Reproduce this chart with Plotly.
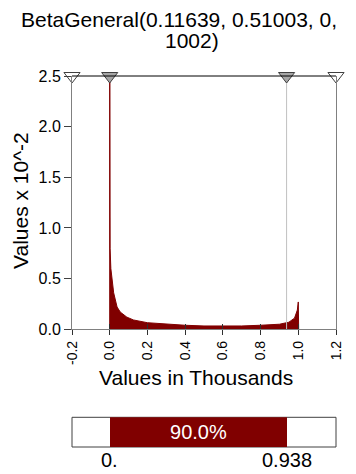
import plotly.graph_objects as go

# ---------------- data ----------------
title_line1 = "BetaGeneral(0.11639, 0.51003, 0,"
title_line2 = "1002)"
x_title = "Values in Thousands"
y_title = "Values x 10^-2"

density_x = [0.0, 0.0, 0.002, 0.006, 0.012, 0.021, 0.039, 0.056, 0.091, 0.126,
             0.2, 0.3, 0.4, 0.5, 0.6, 0.7, 0.8, 0.9, 0.95, 0.98, 0.995, 1.0, 1.002]
density_y = [0.0, 3.0, 0.8, 0.6, 0.49, 0.36, 0.22, 0.17, 0.12, 0.092,
             0.065, 0.049, 0.04, 0.033, 0.03, 0.033, 0.04, 0.05, 0.07, 0.11, 0.19, 0.27, 0.0]

x_ticks = [-0.2, 0.0, 0.2, 0.4, 0.6, 0.8, 1.0, 1.2]
x_tick_labels = ["-0.2", "0.0", "0.2", "0.4", "0.6", "0.8", "1.0", "1.2"]
y_ticks = [0.0, 0.5, 1.0, 1.5, 2.0, 2.5]
y_tick_labels = ["0.0", "0.5", "1.0", "1.5", "2.0", "2.5"]

marker_x = [-0.2, 0.0, 0.938, 1.2]
marker_fill = ["white", "#a6a6a6", "#a6a6a6", "white"]

band_low = 0.0
band_high = 0.938
band_label = "90.0%"
band_low_label = "0."
band_high_label = "0.938"

# ---------------- layout helpers ----------------
W, H = 356, 474
ML, MR, MT, MB = 72, 20, 76, 27
PW = W - ML - MR
PH = H - MT - MB


def py(p):
    return (H - MB - p) / PH


def px(p):
    return (p - ML) / PW


FONT = "Liberation Sans, Arial, sans-serif"
DARK = "#800000"

fig = go.Figure()

# density fill
fig.add_trace(go.Scatter(
    x=density_x, y=density_y, mode="lines", fill="tozeroy",
    fillcolor=DARK, line=dict(color=DARK, width=1),
    xaxis="x", yaxis="y", showlegend=False, hoverinfo="skip"))

# gray marker line at upper bound
fig.add_trace(go.Scatter(
    x=[band_high, band_high], y=[y_ticks[0], y_ticks[-1]], mode="lines",
    line=dict(color="#c0c0c0", width=1), xaxis="x", yaxis="y",
    showlegend=False, hoverinfo="skip"))

# triangles
fig.add_trace(go.Scatter(
    x=marker_x, y=[y_ticks[-1]] * len(marker_x), mode="markers",
    marker=dict(symbol="triangle-down", size=14, color=marker_fill,
                line=dict(color="#404040", width=1)),
    cliponaxis=False, xaxis="x", yaxis="y", showlegend=False, hoverinfo="skip"))

# dummy for overlay tick axis
fig.add_trace(go.Scatter(x=[None], y=[None], xaxis="x3", yaxis="y",
                         showlegend=False, hoverinfo="skip"))

# band bar
fig.add_trace(go.Bar(
    x=[band_high - band_low], base=[band_low], y=[0], orientation="h", width=1,
    marker=dict(color=DARK, line=dict(width=0)),
    text=[band_label], textposition="inside", insidetextanchor="middle",
    textfont=dict(color="white", size=20, family=FONT),
    xaxis="x2", yaxis="y2", showlegend=False, hoverinfo="skip"))

main_bottom = py(329.3)
bar_top = py(417.3)

fig.update_layout(
    width=W, height=H,
    margin=dict(l=ML, r=MR, t=MT, b=MB, pad=0),
    paper_bgcolor="white", plot_bgcolor="white",
    font=dict(family=FONT, color="black"),
    xaxis=dict(domain=[0, 1], range=[-0.2, 1.2], anchor="y",
               tickvals=x_ticks, ticktext=x_tick_labels, tickangle=-90,
               ticks="outside", ticklen=5, tickcolor="#303030",
               tickfont=dict(size=14), showline=True, linecolor="#808080",
               mirror=False, showgrid=False, zeroline=False),
    xaxis3=dict(overlaying="x", range=[-0.2, 1.2], anchor="y",
                tickvals=x_ticks, ticks="inside", ticklen=5, tickcolor="#303030",
                showticklabels=False, showline=False, showgrid=False, zeroline=False),
    yaxis=dict(domain=[main_bottom, 1], range=[0, 2.5], anchor="x",
               tickvals=y_ticks, ticktext=y_tick_labels,
               ticks="outside", ticklen=7, tickcolor="#404040",
               tickfont=dict(size=16), showline=True, linecolor="#808080",
               mirror=True, showgrid=False, zeroline=False),
    xaxis2=dict(domain=[0, 1], range=[-0.2, 1.2], anchor="y2", visible=False),
    yaxis2=dict(domain=[0, bar_top], range=[-0.5, 0.5], anchor="x2", visible=False),
    bargap=0,
)

fig.add_shape(type="line", xref="paper", yref="y domain", x0=0, x1=1, y0=1, y1=1,
              line=dict(color="black", width=1))
fig.add_shape(type="rect", xref="x2 domain", yref="y2 domain", x0=0, x1=1, y0=0, y1=1,
              fillcolor="white", line=dict(color="#404040", width=1), layer="below")

ann = [
    dict(text=title_line1, x=px(179), y=py(19), font=dict(size=21)),
    dict(text=title_line2, x=px(191.5), y=py(40), font=dict(size=21)),
    dict(text=x_title, x=px(196), y=py(377), font=dict(size=21)),
    dict(text=y_title, x=px(20), y=py(201), font=dict(size=21), textangle=-90),
]
for a in ann:
    fig.add_annotation(xref="paper", yref="paper", xanchor="center", yanchor="middle",
                       showarrow=False, **a)

for val, lab in [(band_low, band_low_label), (band_high, band_high_label)]:
    fig.add_annotation(xref="x2", yref="paper", x=val, y=py(460.5), text=lab,
                       xanchor="center", yanchor="middle", showarrow=False,
                       font=dict(size=20))

fig.write_html("out.html",
               config={"displayModeBar": False},
               post_script="document.body.style.margin='0';document.body.style.padding='0';")
